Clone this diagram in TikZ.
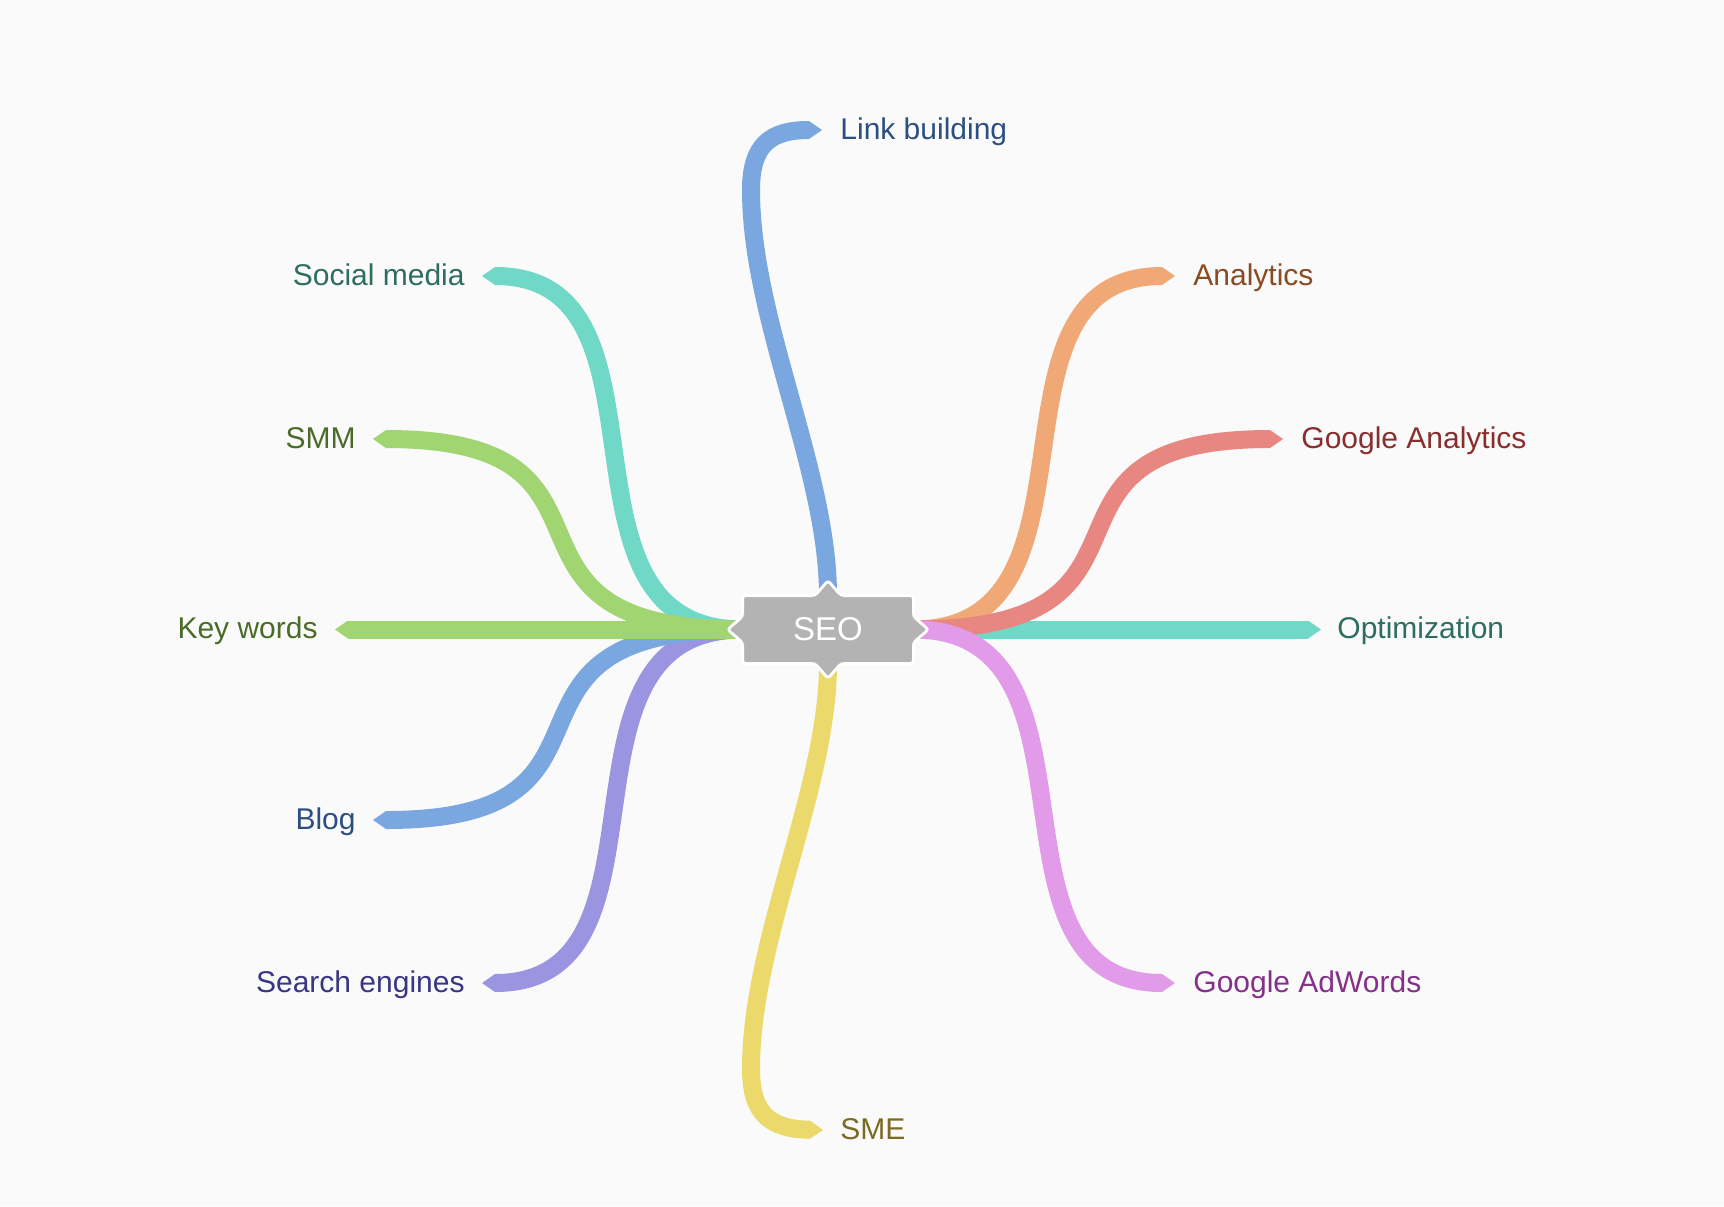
\documentclass[tikz,border=0pt]{standalone}
\usepackage{fontspec}
\setmainfont{Liberation Sans}
\usetikzlibrary{arrows.meta,calc}
\definecolor{bg}{HTML}{FAFAFA}
\definecolor{boxgray}{HTML}{B3B3B3}
\definecolor{rblue}{HTML}{7BA7E1}
\definecolor{rteal}{HTML}{6FD8C6}
\definecolor{rgreen}{HTML}{A1D572}
\definecolor{rpurple}{HTML}{9B94E0}
\definecolor{ryellow}{HTML}{ECD96B}
\definecolor{rorange}{HTML}{F0A876}
\definecolor{rred}{HTML}{E88682}
\definecolor{rpink}{HTML}{E29BE8}
\definecolor{tblue}{HTML}{2C4F80}
\definecolor{tteal}{HTML}{2D6E60}
\definecolor{tgreen}{HTML}{4A6C29}
\definecolor{tpurple}{HTML}{3B3584}
\definecolor{tyellow}{HTML}{7A6B23}
\definecolor{torange}{HTML}{8A4A22}
\definecolor{tred}{HTML}{8A2D2D}
\definecolor{tpink}{HTML}{853089}
\begin{document}
\begin{tikzpicture}[x=0.5pt,y=-0.5pt,
  ribbon/.style={line width=9pt,line cap=butt,-{Triangle[length=6.5pt,width=9pt,line width=0pt]}},
  lbl/.style={inner sep=0pt,font=\fontsize{15pt}{18pt}\selectfont},
  lblr/.style={lbl,anchor=mid west},
  lbll/.style={lbl,anchor=mid east}]
\fill[bg] (0,0) rectangle (1724,1206);
\useasboundingbox (0,0) rectangle (1724,1206);

% centre node (shape drawn later)
\node[inner sep=0pt,minimum width=85pt,minimum height=33.5pt] (seo) at (828,629.5) {};

% tip coordinates
\coordinate (tLink) at (822,130);
\coordinate (tSoc) at (482,276);
\coordinate (tSMM) at (373,439);
\coordinate (tKey) at (335,629.5);
\coordinate (tBlog) at (373,820);
\coordinate (tSE) at (482,983);
\coordinate (tSME) at (823,1130);
\coordinate (tAna) at (1175,276);
\coordinate (tGA) at (1283,439);
\coordinate (tOpt) at (1321,629.5);
\coordinate (tAdW) at (1175,983);

% labels
\node[lblr,text=tblue] (lLink) at ($(tLink)+(18,4)$) {Link building};
\node[lbll,text=tteal] (lSoc) at ($(tSoc)+(-17,4)$) {Social media};
\node[lbll,text=tgreen] (lSMM) at ($(tSMM)+(-17,4)$) {SMM};
\node[lbll,text=tgreen] (lKey) at ($(tKey)+(-17,4)$) {Key words};
\node[lbll,text=tblue] (lBlog) at ($(tBlog)+(-17,4)$) {Blog};
\node[lbll,text=tpurple] (lSE) at ($(tSE)+(-17,4)$) {Search engines};
\node[lblr,text=tyellow] (lSME) at ($(tSME)+(17,4)$) {SME};
\node[lblr,text=torange] (lAna) at ($(tAna)+(18,4)$) {Analytics};
\node[lblr,text=tred] (lGA) at ($(tGA)+(18,4)$) {Google Analytics};
\node[lblr,text=tteal] (lOpt) at ($(tOpt)+(16,4)$) {Optimization};
\node[lblr,text=tpink] (lAdW) at ($(tAdW)+(18,4)$) {Google AdWords};

% ribbons: top and bottom
\draw[ribbon,rblue] (seo.north) .. controls (828,470) and (751,320) .. (751,190)
  .. controls (751,145) and (770,130) .. (tLink);
\draw[ribbon,ryellow] (seo.south) .. controls (828,789) and (751,939) .. (751,1069)
  .. controls (751,1114) and (770,1129) .. (tSME);

% left side
\draw[ribbon,rteal] (seo.west) .. controls (539,629.5) and (686,276) .. (tSoc);
\draw[ribbon,rpurple] (seo.west) .. controls (539,629.5) and (686,983) .. (tSE);
\draw[ribbon,rblue] (seo.west) .. controls (462,629.5) and (654,820) .. (tBlog);
\draw[ribbon,rgreen] (seo.west) .. controls (462,629.5) and (654,439) .. (tSMM);
\draw[ribbon,rgreen] (seo.west) -- (tKey);

% right side
\draw[ribbon,rteal] (seo.east) -- (tOpt);
\draw[ribbon,rorange] (seo.east) .. controls (1117,629.5) and (971,276) .. (tAna);
\draw[ribbon,rred] (seo.east) .. controls (1194,629.5) and (1002,439) .. (tGA);
\draw[ribbon,rpink] (seo.east) .. controls (1117,629.5) and (971,983) .. (tAdW);

% centre box with pointers
\draw[white,line width=1.4pt,fill=boxgray,rounded corners=1.5pt]
  (seo.north west) -- ([xshift=-6.5pt]seo.north) -- ([yshift=7.5pt]seo.north)
  -- ([xshift=6.5pt]seo.north) -- (seo.north east)
  -- ([yshift=6.5pt]seo.east) -- ([xshift=7.5pt]seo.east) -- ([yshift=-6.5pt]seo.east)
  -- (seo.south east) -- ([xshift=6.5pt]seo.south) -- ([yshift=-7.5pt]seo.south)
  -- ([xshift=-6.5pt]seo.south) -- (seo.south west)
  -- ([yshift=-6.5pt]seo.west) -- ([xshift=-7.5pt]seo.west) -- ([yshift=6.5pt]seo.west)
  -- cycle;
\node[text=white,font=\fontsize{16.5pt}{20pt}\selectfont] (seotext) at (seo) {SEO};
\end{tikzpicture}
\end{document}
